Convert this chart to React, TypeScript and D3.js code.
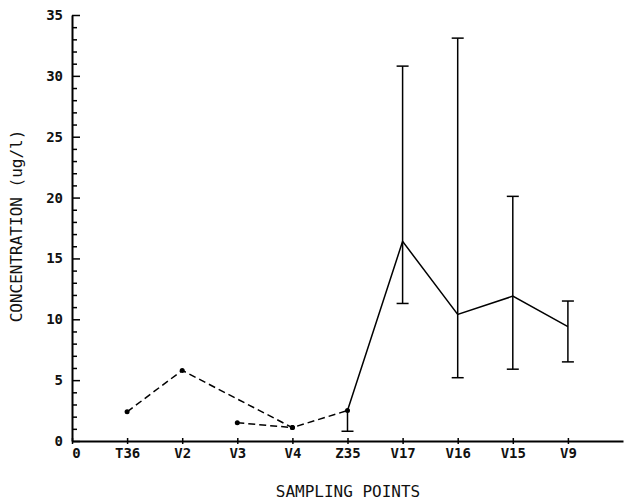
import React, { useEffect, useRef } from "react";
import * as d3 from "d3";

// sampling points along the x axis (position 0 is the origin label)
const categories = ["T36", "V2", "V3", "V4", "Z35", "V17", "V16", "V15", "V9"];
const yTicks = [0, 5, 10, 15, 20, 25, 30, 35];

// dashed segment values
const dashedA = [
  { cat: "T36", v: 2.4 },
  { cat: "V2", v: 5.8 },
  { cat: "V4", v: 1.1 },
  { cat: "Z35", v: 2.5 },
];
const dashedB = [
  { cat: "V3", v: 1.5 },
  { cat: "V4", v: 1.1 },
];

// solid series with error ranges
const solidCats = ["Z35", "V17", "V16", "V15", "V9"];
const solidMean = [2.5, 16.4, 10.4, 11.9, 9.4];
const errLow = [0.8, 11.3, 5.2, 5.9, 6.5];
const errHigh = [2.5, 30.8, 33.1, 20.1, 11.5];

const W = 624;
const H = 501;
const font = "'DejaVu Sans Mono', monospace";

export default function App() {
  const ref = useRef<SVGSVGElement>(null);

  useEffect(() => {
    const svg = d3.select(ref.current);
    svg.selectAll("*").remove();

    const margin = { top: 15, right: 0, bottom: 60, left: 72 };
    const w = W - margin.left - margin.right;
    const h = H - margin.top - margin.bottom;

    const g = svg.append("g").attr("transform", `translate(${margin.left},${margin.top})`);

    const x = d3.scaleLinear().domain([0, 10]).range([0, w - 1]);
    const y = d3.scaleLinear().domain([0, 35]).range([h, 0]);
    const xPos = (c: string) => x(categories.indexOf(c) + 1);

    // y axis (ticks pointing inward)
    const yAxis = g.append("g")
      .call(d3.axisLeft(y).tickValues(yTicks).tickSizeInner(-8).tickSizeOuter(0).tickPadding(9));
    g.append("g")
      .call(d3.axisLeft(y).tickValues(d3.range(0, 36).filter(d => d % 5 !== 0))
        .tickSizeInner(-5).tickSizeOuter(0).tickFormat(() => ""))
      .call(a => a.select(".domain").remove())
      .selectAll(".tick line").attr("stroke", "#000").attr("stroke-width", 1.5);

    // x axis
    const xAxis = g.append("g")
      .attr("transform", `translate(0,${y(0)})`)
      .call(d3.axisBottom(x).tickValues(d3.range(0, 10))
        .tickFormat((d) => (d === 0 ? "0" : categories[(d as number) - 1]))
        .tickSizeInner(3).tickSizeOuter(0).tickPadding(4));
    xAxis.selectAll(".tick line").attr("y1", -3);
    xAxis.selectAll(".tick").filter((d) => d === 0).select("text").attr("dx", 4);

    [yAxis, xAxis].forEach(a => {
      a.select(".domain").attr("stroke", "#000").attr("stroke-width", 2);
      a.selectAll(".tick line").attr("stroke", "#000").attr("stroke-width", 1.5);
      a.selectAll("text").attr("font-family", font).attr("font-size", 14)
        .attr("font-weight", "bold").attr("fill", "#111");
    });

    // dashed lines
    const line = d3.line<{ cat: string; v: number }>().x(d => xPos(d.cat)).y(d => y(d.v));
    [dashedA, dashedB].forEach(data => {
      g.append("path").datum(data).attr("d", line).attr("fill", "none")
        .attr("stroke", "#000").attr("stroke-width", 1.5).attr("stroke-dasharray", "7,4");
      g.selectAll(null).data(data).join("circle")
        .attr("cx", d => xPos(d.cat)).attr("cy", d => y(d.v)).attr("r", 2.5).attr("fill", "#000");
    });

    // solid line
    const solid = solidCats.map((c, i) => ({ cat: c, v: solidMean[i] }));
    g.append("path").datum(solid).attr("d", line).attr("fill", "none")
      .attr("stroke", "#000").attr("stroke-width", 1.5);

    // error bars
    solidCats.forEach((c, i) => {
      const cx = xPos(c);
      const eg = g.append("g").attr("stroke", "#000").attr("stroke-width", 1.5);
      eg.append("line").attr("x1", cx).attr("x2", cx).attr("y1", y(errLow[i])).attr("y2", y(errHigh[i]));
      eg.append("line").attr("x1", cx - 6).attr("x2", cx + 6).attr("y1", y(errLow[i])).attr("y2", y(errLow[i]));
      if (errHigh[i] > solidMean[i])
        eg.append("line").attr("x1", cx - 6).attr("x2", cx + 6).attr("y1", y(errHigh[i])).attr("y2", y(errHigh[i]));
    });

    // axis titles
    svg.append("text")
      .attr("x", margin.left + w / 2).attr("y", 497)
      .attr("text-anchor", "middle").attr("font-family", font).attr("font-size", 16)
      .attr("fill", "#111").text("SAMPLING POINTS");
    svg.append("text")
      .attr("transform", `translate(22,226) rotate(-90)`)
      .attr("text-anchor", "middle").attr("font-family", font).attr("font-size", 16)
      .attr("fill", "#111").text("CONCENTRATION (ug/l)");
  }, []);

  return (
    <svg ref={ref} width={W} height={H} style={{ position: "absolute", left: 0, top: 0, background: "#fff" }} />
  );
}
